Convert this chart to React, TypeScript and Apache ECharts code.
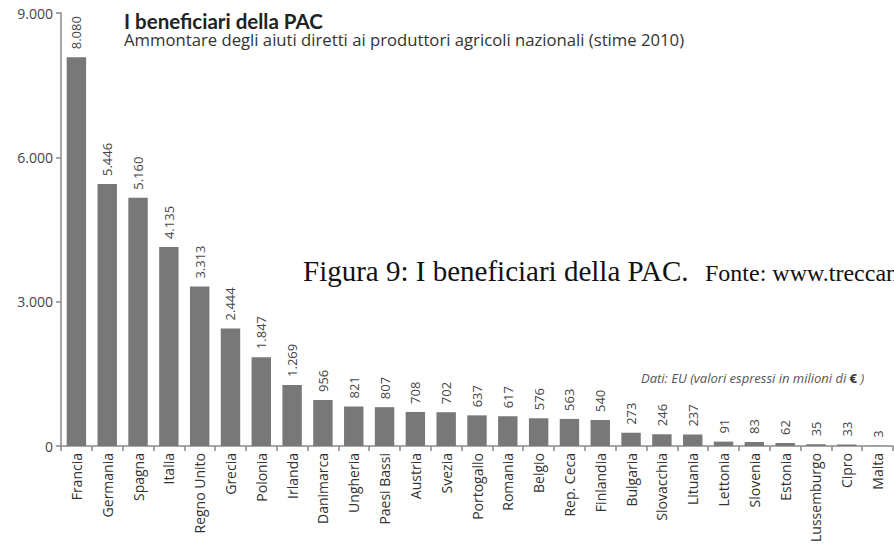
import React, { useEffect, useRef } from "react";
import * as echarts from "echarts";

const countries = [
  "Francia", "Germania", "Spagna", "Italia", "Regno Unito", "Grecia", "Polonia", "Irlanda",
  "Danimarca", "Ungheria", "Paesi Bassi", "Austria", "Svezia", "Portogallo", "Romania", "Belgio",
  "Rep. Ceca", "Finlandia", "Bulgaria", "Slovacchia", "Lituania", "Lettonia", "Slovenia", "Estonia",
  "Lussemburgo", "Cipro", "Malta",
];
const aiuti = [
  8080, 5446, 5160, 4135, 3313, 2444, 1847, 1269, 956, 821, 807, 708, 702, 637, 617, 576, 563, 540,
  273, 246, 237, 91, 83, 62, 35, 33, 3,
];
const yTicks = [0, 3000, 6000, 9000];

const titleText = "I beneficiari della PAC";
const subtitleText = "Ammontare degli aiuti diretti ai produttori agricoli nazionali (stime 2010)";
const captionMain = "Figura 9: I beneficiari della PAC.";
const captionSource = "Fonte: www.treccani.it";

const fmt = (v: number) => {
  const s = String(Math.round(v));
  return s.replace(/\B(?=(\d{3})+(?!\d))/g, ".");
};

const FONT = "'Open Sans', 'Noto Sans', sans-serif";
const SERIF = "'Liberation Serif', 'DejaVu Serif', serif";

export default function App() {
  const ref = useRef<HTMLDivElement>(null);
  useEffect(() => {
    if (!ref.current) return;
    const chart = echarts.init(ref.current, null, { renderer: "svg" });
    chart.setOption({
      animation: false,
      backgroundColor: "#ffffff",
      grid: { left: 61, right: 1, top: 13, bottom: 101, containLabel: false },
      xAxis: {
        type: "category",
        data: countries,
        axisLine: { lineStyle: { color: "#8a8a8a", width: 1.5 } },
        axisTick: { show: true, length: 5, lineStyle: { color: "#8a8a8a", width: 1.5 } },
        axisLabel: {
          interval: 0,
          rotate: 90,
          margin: 7,
          fontFamily: FONT,
          fontSize: 14,
          color: "#333333",
        },
      },
      yAxis: {
        type: "value",
        min: 0,
        max: 9000,
        interval: 3000,
        splitLine: { show: false },
        axisLine: { show: true, lineStyle: { color: "#8a8a8a", width: 1.5 } },
        axisTick: { show: true, length: 5, lineStyle: { color: "#8a8a8a", width: 1.5 } },
        axisLabel: {
          margin: 8,
          fontFamily: FONT,
          fontSize: 14,
          color: "#444444",
          formatter: (v: number) => (yTicks.includes(v) ? fmt(v) : ""),
        },
      },
      series: [
        {
          type: "bar",
          data: aiuti,
          barWidth: "63%",
          itemStyle: { color: "#787878" },
          label: {
            show: true,
            position: "top",
            rotate: 90,
            align: "left",
            verticalAlign: "middle",
            distance: 8,
            fontFamily: FONT,
            fontSize: 13,
            color: "#444444",
            formatter: (p: any) => fmt(p.value),
          },
        },
      ],
      graphic: [
        {
          type: "text",
          x: 124,
          y: 11.5,
          style: {
            text: "{t|" + titleText + "}\n{s|" + subtitleText + "}",
            verticalAlign: "top",
            rich: {
              t: {
                fontFamily: "Lato, 'Open Sans', sans-serif",
                fontSize: 20.5,
                lineHeight: 19,
                fontWeight: "bold",
                fill: "#222222",
              },
              s: {
                fontFamily: FONT,
                fontSize: 16.7,
                lineHeight: 18,
                fill: "#333333",
              },
            },
          },
        },
        {
          type: "text",
          x: 641,
          y: 378,
          style: {
            text: "{i|Dati: EU (valori espressi in milioni di }{b|€}{i| )}",
            verticalAlign: "middle",
            rich: {
              i: { fontFamily: FONT, fontSize: 13, fontStyle: "italic", fill: "#555555" },
              b: { fontFamily: FONT, fontSize: 13, fontWeight: "bold", fill: "#333333" },
            },
          },
        },
        {
          type: "text",
          x: 303,
          y: 271,
          style: {
            text: captionMain,
            fontFamily: SERIF,
            fontSize: 29,
            fill: "#111111",
            verticalAlign: "middle",
          },
        },
        {
          type: "text",
          x: 705,
          y: 273,
          style: {
            text: captionSource,
            fontFamily: SERIF,
            fontSize: 24,
            fill: "#111111",
            verticalAlign: "middle",
          },
        },
      ],
    });
    return () => chart.dispose();
  }, []);
  return (
    <div
      ref={ref}
      style={{ position: "fixed", left: 0, top: 0, width: 894, height: 547, overflow: "hidden" }}
    />
  );
}
